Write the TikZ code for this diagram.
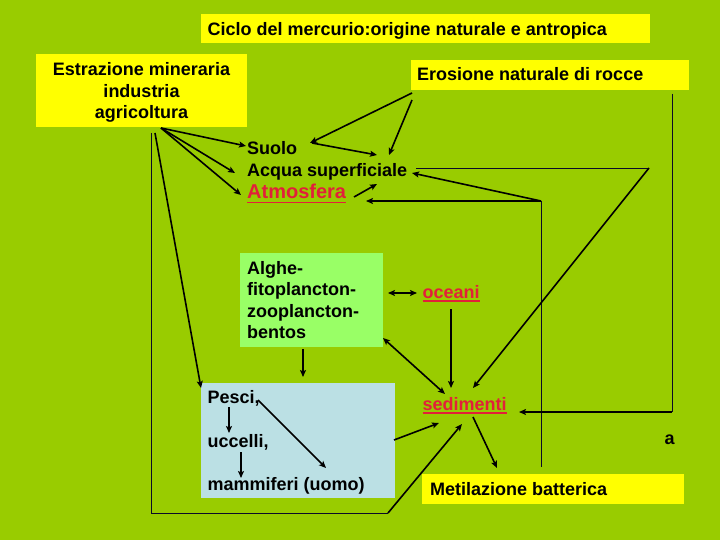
\documentclass[tikz,border=0pt]{standalone}
\usepackage{fontspec}
\setmainfont{Liberation Sans}
\usetikzlibrary{arrows.meta}
\definecolor{bgc}{RGB}{153,204,0}
\definecolor{yboxc}{RGB}{255,255,0}
\definecolor{gboxc}{RGB}{153,255,102}
\definecolor{bboxc}{RGB}{187,224,228}
\definecolor{redtxt}{RGB}{226,32,58}
\definecolor{thinc}{RGB}{10,10,40}
\begin{document}
\begin{tikzpicture}[x=1pt,y=-1pt,
  lbl/.style={inner sep=0pt, anchor=base west, font=\fontsize{18}{21.5}\selectfont\bfseries},
  lblc/.style={lbl, anchor=base},
  redlbl/.style={lbl, text=redtxt},
  boxn/.style={inner sep=0pt, anchor=north west, draw=none},
  arr/.style={line width=1.6pt, -{Stealth[length=7pt,width=6pt,inset=1.5pt]}},
  dbl/.style={line width=1.6pt, {Stealth[length=7pt,width=6pt,inset=1.5pt]}-{Stealth[length=7pt,width=6pt,inset=1.5pt]}},
  thinln/.style={line width=0.8pt, draw=thinc},
  uline/.style={draw=redtxt, line width=1.5pt}
]
\fill[bgc] (0,0) rectangle (720,540);
\useasboundingbox (0,0) rectangle (720,540);

% boxes
\node[boxn, fill=yboxc, minimum width=449pt, minimum height=29pt] (titlebox) at (201,14) {};
\node[boxn, fill=yboxc, minimum width=211pt, minimum height=73pt] (estbox) at (36,54) {};
\node[boxn, fill=yboxc, minimum width=278pt, minimum height=30pt] (erobox) at (411,60) {};
\node[boxn, fill=gboxc, minimum width=143pt, minimum height=94pt] (alghebox) at (240,253) {};
\node[boxn, fill=bboxc, minimum width=194pt, minimum height=115pt] (pescibox) at (201,383) {};
\node[boxn, fill=yboxc, minimum width=262pt, minimum height=30pt] (metbox) at (422,474) {};

% texts
\node[lbl] (title) at (207.5,36) {Ciclo del mercurio:origine naturale e antropica};
\node[lblc] (est1) at (141.5,76) {Estrazione mineraria};
\node[lblc] (est2) at (141.5,97.5) {industria};
\node[lblc] (est3) at (141.5,119) {agricoltura};
\node[lbl] (ero) at (417,81) {Erosione naturale di rocce};
\node[lbl] (suolo) at (247,155) {Suolo};
\node[lbl] (acqua) at (247,176.5) {Acqua superficiale};
\node[redlbl, font=\fontsize{20}{24}\selectfont\bfseries] (atm) at (247,199) {Atmosfera};
\node[lbl] (alg1) at (247,274) {Alghe-};
\node[lbl] (alg2) at (247,295.5) {fitoplancton-};
\node[lbl] (alg3) at (247,317) {zooplancton-};
\node[lbl] (alg4) at (247,338.5) {bentos};
\node[lbl] (pesci) at (207.5,403.3) {Pesci,};
\node[lbl] (ucc) at (207.5,447.5) {uccelli,};
\node[lbl] (mam) at (207.5,490.5) {mammiferi (uomo)};
\node[redlbl] (oce) at (422.5,298) {oceani};
\node[redlbl] (sed) at (422.5,410) {sedimenti};
\node[lbl] (met) at (430,495) {Metilazione batterica};
\node[lbl] (alab) at (664.5,444) {a};

% underlines
\draw[uline] ([yshift=-3.5pt]atm.base west) -- ([yshift=-3.5pt]atm.base east);
\draw[uline] ([yshift=-3pt]oce.base west) -- ([yshift=-3pt]oce.base east);
\draw[uline] ([yshift=-3pt]sed.base west) -- ([yshift=-3pt]sed.base east);

% connector points
\coordinate (estA) at (161,128);
\coordinate (estD) at (155,133);
\coordinate (estE) at (151,133);
\coordinate (suoloL) at (246,146);
\coordinate (acquaL) at (235,173);
\coordinate (atmL) at (241,195);
\coordinate (pesciTL) at (201,388);
\coordinate (cornerBL) at (151,513);
\coordinate (cornerBR) at (388,513);
\coordinate (sedBL) at (462,424);
\coordinate (pesciR) at (394,440);
\coordinate (sedL) at (439,423);
\coordinate (algheB) at (303,349);
\coordinate (pesciT) at (303,377);
\coordinate (pesciD) at (229,407);
\coordinate (uccT) at (229,433);
\coordinate (uccB) at (241,452);
\coordinate (mamT) at (241,478);
\coordinate (pesciE) at (258,400);
\coordinate (uomoT) at (326,468);
\coordinate (algheR) at (388,293);
\coordinate (oceL) at (417,293);
\coordinate (oceB) at (451,309);
\coordinate (sedT) at (451,388);
\coordinate (algheBR) at (383,338);
\coordinate (sedTL) at (445,394);
\coordinate (sedB) at (473,417);
\coordinate (metT) at (497,468);
\coordinate (acquaR) at (416,168);
\coordinate (diagTop) at (649,168);
\coordinate (sedTR) at (473,388);
\coordinate (junc) at (541,201);
\coordinate (atmR) at (366,201);
\coordinate (acquaR2) at (412,173);
\coordinate (juncB) at (541,467);
\coordinate (eroBL) at (412,93);
\coordinate (suoloR) at (310,143);
\coordinate (eroBL2) at (412,100);
\coordinate (acquaT) at (389,155);
\coordinate (suoloR2) at (312,143);
\coordinate (acquaTR) at (377,155);
\coordinate (atmR2) at (354,197);
\coordinate (acquaBR) at (377,184);
\coordinate (eroR) at (672,94);
\coordinate (rightC) at (672,412);
\coordinate (sedR) at (519,412);

% thin lines
\draw[thinln] (estE) -- (cornerBL) -- (cornerBR);
\draw[thinln] (acquaR) -- (diagTop);
\draw[thinln] (junc) -- (juncB);
\draw[thinln] (eroR) -- (rightC);

% thick arrows
\draw[arr] (estA) -- (suoloL);
\draw[arr] (estA) -- (acquaL);
\draw[arr] (estA) -- (atmL);
\draw[arr] (estD) -- (pesciTL);
\draw[arr] (cornerBR) -- (sedBL);
\draw[arr] (pesciR) -- (sedL);
\draw[arr] (algheB) -- (pesciT);
\draw[arr] (pesciD) -- (uccT);
\draw[arr] (uccB) -- (mamT);
\draw[arr] (pesciE) -- (uomoT);
\draw[dbl] (algheR) -- (oceL);
\draw[arr] (oceB) -- (sedT);
\draw[dbl] (algheBR) -- (sedTL);
\draw[arr] (sedB) -- (metT);
\draw[arr] (diagTop) -- (sedTR);
\draw[arr] (junc) -- (atmR);
\draw[arr] (junc) -- (acquaR2);
\draw[arr] (eroBL) -- (suoloR);
\draw[arr] (eroBL2) -- (acquaT);
\draw[arr] (suoloR2) -- (acquaTR);
\draw[arr] (atmR2) -- (acquaBR);
\draw[arr] (rightC) -- (sedR);
\end{tikzpicture}
\end{document}
